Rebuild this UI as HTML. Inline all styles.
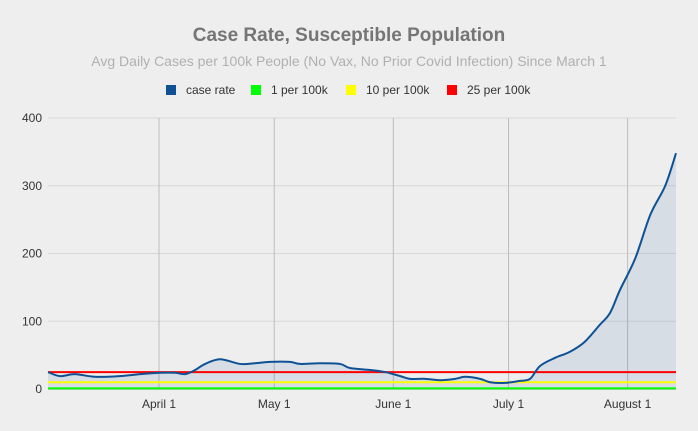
<!DOCTYPE html>
<html><head><meta charset="utf-8"><style>
body{margin:0;background:#eeeeee;font-family:"Liberation Sans",sans-serif;}
svg{display:block}
</style></head><body>
<svg id="c" width="698" height="431">
<rect width="698" height="431" fill="#eeeeee"/>
<text x="349" y="41" text-anchor="middle" font-size="19" font-weight="bold" fill="#757575">Case Rate, Susceptible Population</text>
<text x="349" y="66" text-anchor="middle" font-size="14" fill="#b0b0b0">Avg Daily Cases per 100k People (No Vax, No Prior Covid Infection) Since March 1</text>
<g id="legend" font-size="12" fill="#333">
<rect x="166" y="85" width="10" height="10" fill="#0e5195"/><text x="186" y="94">case rate</text>
<rect x="251" y="85" width="10" height="10" fill="#00ff00"/><text x="271" y="94">1 per 100k</text>
<rect x="346" y="85" width="10" height="10" fill="#ffff00"/><text x="366" y="94">10 per 100k</text>
<rect x="447" y="85" width="10" height="10" fill="#ff0000"/><text x="467" y="94">25 per 100k</text>
</g>
<g id="plot"></g>
</svg>
<script>
const days=[2.1,5.2,9.1,14.3,20.8,26.1,31.3,35.2,37.8,40.4,43,46.9,52.1,56,59.9,65.1,67.7,72.9,78.1,80.7,86,89.9,93.8,96.4,100.3,104.2,108.1,110.7,114.6,117.2,121.1,125,127.6,130.2,134.1,138,141.9,145.8,148.4,151,155,158.9,162.8,165.6];
const caseRate=[25,19,22,18,19,22,24,24,22,28,37,44,37,38,40,40,37,38,37,31,28,25,19,15,15,13,15,18,15,10,9,12,15,34,46,55,70,95,112,146,193,257,300,348];
const thresholds=[1,10,25];
const thresholdColors=["#00ff00","#ffff00","#ff0000"];
const thresholdNames=["threshold-1-per-100k","threshold-10-per-100k","threshold-25-per-100k"];
const yTicks=[0,100,200,300,400];
const monthTickDays=[31,61,92,122,153];
const monthTickLabels=["April 1","May 1","June 1","July 1","August 1"];
const X0=48,X1=676,Y0=389,Y1=118,D0=2.1,D1=165.6,V1=400;
const xs=d=>X0+(d-D0)/(D1-D0)*(X1-X0);
const ys=v=>Y0-v/V1*(Y0-Y1);
const NS="http://www.w3.org/2000/svg";
const g=document.getElementById('plot');
function mk(t,a){const e=document.createElementNS(NS,t);for(const k in a)e.setAttribute(k,a[k]);g.appendChild(e);return e;}
yTicks.forEach(v=>{
 const l=mk('line',{x1:X0,x2:X1,y1:ys(v),y2:ys(v),stroke:v===0?'#333':'#d8d8d8','stroke-width':1});
 
 
 const t=mk('text',{x:42,y:ys(v)+4,'text-anchor':'end','font-size':12,fill:'#333'});t.textContent=v;
 
 
});
monthTickDays.forEach((d,i)=>{
 const l=mk('line',{x1:xs(d),x2:xs(d),y1:Y1,y2:Y0,stroke:'#bdbdbd','stroke-width':1});
 
 
 const t=mk('text',{x:xs(d),y:408,'text-anchor':'middle','font-size':12,fill:'#333'});t.textContent=monthTickLabels[i];
 
 
});
const pts=days.map((d,i)=>[xs(d),ys(caseRate[i])]);
let p='M'+pts[0][0]+','+pts[0][1];
for(let i=0;i<pts.length-1;i++){
 const a=pts[Math.max(i-1,0)],b=pts[i],c=pts[i+1],e=pts[Math.min(i+2,pts.length-1)];
 p+=' C'+(b[0]+(c[0]-a[0])/6)+','+(b[1]+(c[1]-a[1])/6)+' '+(c[0]-(e[0]-b[0])/6)+','+(c[1]-(e[1]-b[1])/6)+' '+c[0]+','+c[1];
}
const area=mk('path',{d:p+' L'+pts[pts.length-1][0]+','+Y0+' L'+pts[0][0]+','+Y0+' Z',fill:'#0e5195','fill-opacity':0.1});


thresholds.forEach((v,i)=>{
 const l=mk('line',{x1:X0,x2:X1,y1:ys(v),y2:ys(v),stroke:thresholdColors[i],'stroke-width':2});
 
 
});
const line=mk('path',{d:p,fill:'none',stroke:'#0e5195','stroke-width':2});


</script>
</body></html>
